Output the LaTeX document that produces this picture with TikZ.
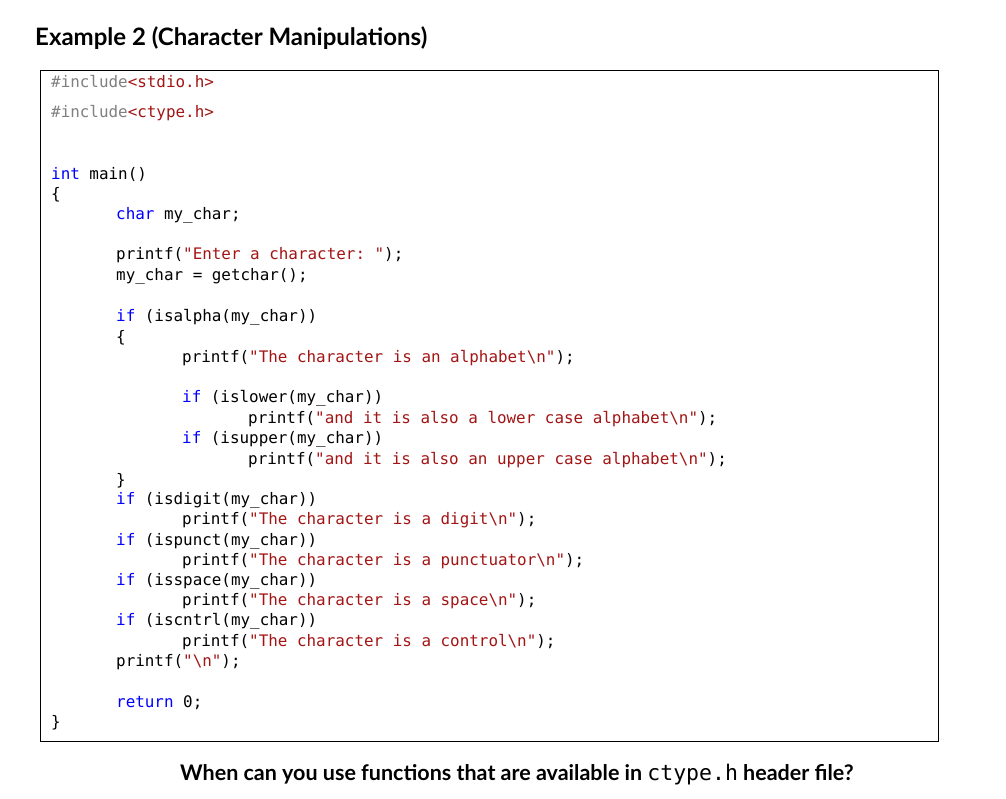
\documentclass[tikz,border=0pt]{standalone}
\usepackage{fontspec}
\setmainfont{Lato}
\setmonofont{DejaVu Sans Mono}
\usepackage{xcolor}
\usetikzlibrary{positioning}
\definecolor{kwblue}{HTML}{0000FF}
\definecolor{strred}{HTML}{A31515}
\definecolor{ppgray}{HTML}{808080}
\newcommand{\kw}[1]{\textcolor{kwblue}{#1}}
\newcommand{\str}[1]{\textcolor{strred}{#1}}
\newcommand{\nl}{\textbackslash n}

\begin{document}
\begin{tikzpicture}[x=1pt, y=-1pt,
    code/.style={anchor=west, inner sep=0pt, yshift=-1.5pt, font=\ttfamily\fontsize{15.9}{18}\selectfont},
    title/.style={anchor=west, inner sep=0pt, font=\bfseries\fontsize{24}{28}\selectfont}]
    \useasboundingbox (0,0) rectangle (1006,798);

    % Title
    \node[title] (head) at (35,38) {Example 2 (Character Manipulations)};

    % Code box
    \draw[line width=0.8pt] (40,70) rectangle (938,741);

    % Code lines
    \node[code] (l1) at (51,80) {\textcolor{ppgray}{\#include}\str{<stdio.h>}};
    \node[code] (l2) at (51,112) {\textcolor{ppgray}{\#include}\str{<ctype.h>}};
    \node[code] (l3) at (51,173) {\kw{int} main()};
    \node[code] (l4) at (51,193) {\{};
    \node[code] (l5) at (116,214) {\kw{char} my\_char;};
    \node[code] (l6) at (116,254) {printf(\str{"Enter a character: "});};
    \node[code] (l7) at (116,275) {my\_char = getchar();};
    \node[code] (l8) at (116,316) {\kw{if} (isalpha(my\_char))};
    \node[code] (l9) at (116,336) {\{};
    \node[code] (l10) at (182,357) {printf(\str{"The character is an alphabet\nl"});};
    \node[code] (l11) at (182,397) {\kw{if} (islower(my\_char))};
    \node[code] (l12) at (248,418) {printf(\str{"and it is also a lower case alphabet\nl"});};
    \node[code] (l13) at (182,438) {\kw{if} (isupper(my\_char))};
    \node[code] (l14) at (248,459) {printf(\str{"and it is also an upper case alphabet\nl"});};
    \node[code] (l15) at (116,479) {\}};
    \node[code] (l16) at (116,499) {\kw{if} (isdigit(my\_char))};
    \node[code] (l17) at (182,519) {printf(\str{"The character is a digit\nl"});};
    \node[code] (l18) at (116,540) {\kw{if} (ispunct(my\_char))};
    \node[code] (l19) at (182,560) {printf(\str{"The character is a punctuator\nl"});};
    \node[code] (l20) at (116,580) {\kw{if} (isspace(my\_char))};
    \node[code] (l21) at (182,600) {printf(\str{"The character is a space\nl"});};
    \node[code] (l22) at (116,620) {\kw{if} (iscntrl(my\_char))};
    \node[code] (l23) at (182,641) {printf(\str{"The character is a control\nl"});};
    \node[code] (l24) at (116,661) {printf(\str{"\nl"});};
    \node[code] (l25) at (116,701) {\kw{return} 0;};
    \node[code] (l26) at (51,721) {\}};

    % Question
    \node[title, font=\bfseries\fontsize{21.5}{24}\selectfont] (quest) at (180,775)
        {When can you use functions that are available in {\ttfamily\mdseries ctype.h} header file?};
\end{tikzpicture}
\end{document}
